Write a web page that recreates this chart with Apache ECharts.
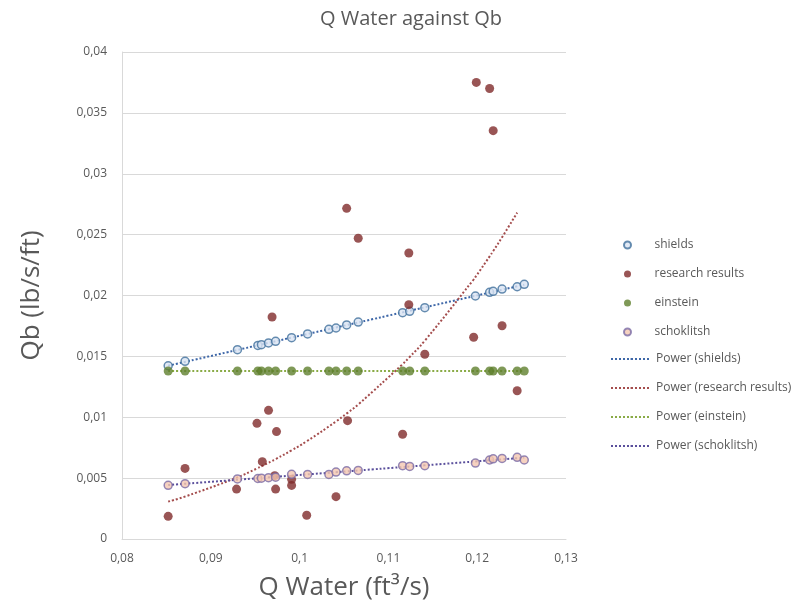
<!DOCTYPE html>
<html>
<head>
<meta charset="utf-8">
<script src="https://cdn.jsdelivr.net/npm/echarts@6/dist/echarts.min.js"></script>
<style>
  html, body { margin: 0; padding: 0; background: #fff; }
  #chart { width: 808px; height: 608px; }
</style>
</head>
<body>
<div id="chart"></div>
<script>
// Q water values shared by shields, einstein and schoklitsh
const qWater = [0.0852, 0.0871, 0.0930, 0.0953, 0.0957, 0.0965, 0.0973, 0.0991, 0.1009, 0.1033, 0.1041,
    0.1053, 0.1066, 0.1116, 0.1124, 0.1141, 0.1198, 0.1214, 0.1218, 0.1228, 0.1245, 0.1253]
const shields = [0.01423, 0.01459, 0.01555, 0.0159, 0.01596, 0.0161, 0.01624, 0.01654, 0.01684, 0.01722, 0.01733,
    0.01758, 0.01782, 0.01859, 0.0187, 0.019, 0.01996, 0.02026, 0.02034, 0.02053, 0.02072, 0.02092]
const einstein = [0.0138, 0.0138, 0.0138, 0.0138, 0.0138, 0.0138, 0.0138, 0.0138, 0.0138, 0.0138, 0.0138,
    0.0138, 0.0138, 0.0138, 0.0138, 0.0138, 0.0138, 0.0138, 0.0138, 0.0138, 0.0138, 0.0138]
const schoklitsh = [0.00441, 0.00454, 0.00493, 0.00497, 0.005, 0.00504, 0.00508, 0.00531, 0.0053, 0.0053, 0.0055,
    0.0056, 0.00563, 0.00602, 0.00596, 0.00602, 0.00624, 0.00649, 0.00659, 0.00662, 0.00671, 0.00649]

// research results
const researchQ = [0.0852, 0.0871, 0.0929, 0.0952, 0.0958, 0.0965, 0.0969, 0.0972, 0.0973, 0.0974, 0.0991, 0.0991,
    0.1008, 0.1041, 0.1053, 0.1054, 0.1066, 0.1116, 0.1123, 0.1123, 0.1141, 0.1196, 0.1199, 0.1214, 0.1218, 0.1228, 0.1245]
const research = [0.00186, 0.0058, 0.0041, 0.0095, 0.00635, 0.01057, 0.01823, 0.0052, 0.0041, 0.00882, 0.0049, 0.0044,
    0.00195, 0.00348, 0.02716, 0.00972, 0.0247, 0.0086, 0.02349, 0.01925, 0.01517, 0.01657, 0.0375, 0.0370, 0.03354, 0.01752, 0.01218]

const xTicks = [0.08, 0.09, 0.1, 0.11, 0.12, 0.13]
const pointNames = ['shields', 'research results', 'einstein', 'schoklitsh']
const trendNames = ['Power (shields)', 'Power (research results)', 'Power (einstein)', 'Power (schoklitsh)']

const textColor = '#595959'
const font = 'Open Sans, Noto Sans, sans-serif'

const pairs = (xs, ys) => xs.map((x, i) => [x, ys[i]])
const commaFmt = v => String(+v.toFixed(3)).replace('.', ',')

// power trendline, least squares on ln x / ln y (like Excel)
const powerTrend = (xs, ys) => {
    const n = xs.length
    const lx = xs.map(Math.log)
    const ly = ys.map(Math.log)
    const mx = lx.reduce((a, b) => a + b, 0) / n
    const my = ly.reduce((a, b) => a + b, 0) / n
    let sxy = 0, sxx = 0
    for (let i = 0; i < n; i++) {
        sxy += (lx[i] - mx) * (ly[i] - my)
        sxx += (lx[i] - mx) * (lx[i] - mx)
    }
    const b = sxy / sxx
    const a = Math.exp(my - b * mx)
    const sorted = Array.from(new Set(xs)).sort((p, q) => p - q)
    return sorted.map(x => [x, a * Math.pow(x, b)])
}

const scatter = (name, data, size, fill, border) => ({
    name,
    type: 'scatter',
    data,
    symbolSize: size,
    itemStyle: { color: fill, borderColor: border, borderWidth: border ? 1.5 : 0 },
    z: 3
})

const trend = (name, data, color) => ({
    name,
    type: 'line',
    data,
    smooth: true,
    showSymbol: false,
    symbol: 'none',
    lineStyle: { color, width: 2, type: [2, 2] },
    itemStyle: { color },
    z: 2
})

const legendBase = {
    orient: 'vertical',
    itemGap: 15,
    textStyle: { color: textColor, fontSize: 12, lineHeight: 14, fontFamily: font }
}

const chart = echarts.init(document.getElementById('chart'))

const option = {
    backgroundColor: '#fff',
    animation: false,
    title: {
        text: 'Q Water against Qb',
        left: 406,
        textAlign: 'center',
        top: 4,
        textStyle: { color: textColor, fontSize: 20, fontWeight: 'normal', fontFamily: font }
    },
    grid: { left: 122, right: 242, top: 52, bottom: 69 },
    legend: [
        Object.assign({}, legendBase, {
            left: 618,
            top: 233,
            itemWidth: 44,
            itemHeight: 7,
            data: pointNames.map(name => ({ name, icon: 'circle' }))
        }),
        Object.assign({}, legendBase, {
            left: 605,
            top: 347,
            itemWidth: 40,
            itemHeight: 2,
            data: trendNames
        })
    ],
    xAxis: {
        type: 'value',
        min: xTicks[0],
        max: xTicks[xTicks.length - 1],
        interval: 0.01,
        name: 'Q Water (ft³/s)',
        nameLocation: 'middle',
        nameGap: 36,
        nameTextStyle: { color: textColor, fontSize: 26, fontFamily: font },
        axisLine: { lineStyle: { color: '#d9d9d9' } },
        axisTick: { show: false },
        splitLine: { show: false },
        axisLabel: { color: textColor, fontSize: 12, fontFamily: font, margin: 14, formatter: commaFmt }
    },
    yAxis: {
        type: 'value',
        min: 0,
        max: 0.04,
        interval: 0.005,
        name: 'Qb (lb/s/ft)',
        nameLocation: 'middle',
        nameGap: 77,
        nameTextStyle: { color: textColor, fontSize: 26, fontFamily: font },
        axisLine: { show: true, lineStyle: { color: '#d9d9d9' } },
        axisTick: { show: false },
        splitLine: { lineStyle: { color: '#d9d9d9' } },
        axisLabel: { color: textColor, fontSize: 12, fontFamily: font, margin: 15, formatter: commaFmt }
    },
    series: [
        scatter(pointNames[0], pairs(qWater, shields), 8, '#dae3f3', '#41719c'),
        scatter(pointNames[1], pairs(researchQ, research), 9, '#7f2a2a', null),
        scatter(pointNames[2], pairs(qWater, einstein), 9, '#5f7f2d', null),
        scatter(pointNames[3], pairs(qWater, schoklitsh), 8, '#f4c7b0', '#7b6ca6'),
        trend(trendNames[0], powerTrend(qWater, shields), '#3e67a8'),
        trend(trendNames[1], powerTrend(researchQ, research), '#a44d4d'),
        trend(trendNames[2], powerTrend(qWater, einstein), '#8aab46'),
        trend(trendNames[3], powerTrend(qWater, schoklitsh), '#5a4f9c')
    ]
}

chart.setOption(option)
</script>
</body>
</html>
